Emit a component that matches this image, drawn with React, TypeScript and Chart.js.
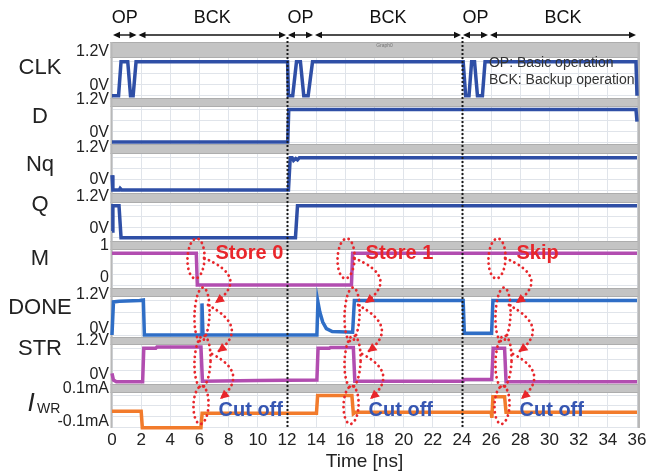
import React, { useEffect, useRef } from 'react';
import { Chart, registerables } from 'chart.js';

Chart.register(...registerables);

// ---------------- data ----------------
const timeMin = 0;
const timeMax = 36;
const timeStep = 2;

const phaseLabels = ['OP', 'BCK', 'OP', 'BCK', 'OP', 'BCK'];
const phaseBounds = [0, 1.75, 12, 13.85, 24, 25.85, 36];
const dividerTimes = [12, 24];
const legendLines = ['OP: Basic operation', 'BCK: Backup operation'];

const signalNames = ['CLK', 'D', 'Nq', 'Q', 'M', 'DONE', 'STR', 'IWR'];

const voltTicks = [0, 1.2];
const voltTickLabels = ['0V', '1.2V'];
const memTicks = [0, 1];
const memTickLabels = ['0', '1'];
const currTicks = [-0.1, 0.1];
const currTickLabels = ['-0.1mA', '0.1mA'];

const clkWave = [[0, 0], [0.45, 0], [0.62, 1.2], [1.08, 1.2], [1.27, 0], [1.45, 0], [1.65, 1.2],
  [12.04, 1.2], [12.1, 0], [12.39, 0], [12.65, 1.2], [12.92, 1.2], [13.15, 0], [13.45, 0], [13.75, 1.2],
  [24.08, 1.2], [24.25, 0], [24.48, 0], [24.66, 1.2], [24.86, 1.2], [25.06, 0], [25.4, 0], [25.58, 1.2],
  [35.93, 1.2], [36, 0]];
const dWave = [[0, 0], [12.05, 0], [12.12, 1.2], [35.93, 1.2], [36, 0.75]];
const nqWave = [[0, 0.55], [0.06, 0], [0.5, 0], [0.56, 0.06], [0.66, 0], [12.1, 0], [12.22, 1.2], [12.35, 1.2],
  [12.45, 1.1], [12.6, 1.17], [12.72, 1.12], [12.85, 1.2], [36, 1.2]];
const qWave = [[0, 0.25], [0.06, 1.2], [0.48, 1.2], [0.62, 0], [12.58, 0], [12.72, 1.2], [36, 1.2]];
const mWave = [[0, 1], [5.78, 1], [5.85, 0], [16.42, 0], [16.5, 1], [36, 1]];
const doneWave = [[0, 0], [0.1, 1.15], [0.5, 1.17], [1.9, 1.2], [2.15, 1.22], [2.22, 0], [6.12, 0], [6.17, 1.1],
  [6.24, 0], [14.05, 0], [14.12, 1.15], [14.25, 0.8], [14.45, 0.45], [14.7, 0.22], [15.1, 0.12], [16.5, 0.1],
  [16.62, 1.2], [24.08, 1.2], [24.16, 0.06], [26.03, 0.06], [26.12, 1.2], [36, 1.2]];
const strWave = [[0, 0.3], [0.1, 0.06], [0.3, 0], [2.1, 0], [2.18, 1.2], [3.0, 1.2], [3.08, 1.25], [6.1, 1.25],
  [6.2, 0.02], [10, 0.04], [14.05, 0.06], [14.13, 1.2], [14.9, 1.2], [14.98, 1.23], [16.55, 1.23], [16.65, 0.02],
  [24.08, 0.02], [24.14, 0.08], [26.04, 0.08], [26.14, 1.2], [26.92, 1.2], [27.02, 0], [36, 0]];
const iwrWave = [[0, 0], [2.0, 0], [2.08, -0.1], [6.1, -0.1], [6.18, -0.012], [14.02, -0.012], [14.1, 0.097],
  [16.45, 0.097], [16.55, -0.015], [16.7, -0.005], [26.0, -0.005], [26.05, -0.04], [26.12, 0.09], [26.92, 0.09],
  [27.02, -0.005], [36, -0.005]];

const annotTimes = [5.76, 16.05, 26.4];
const annotTitles = ['Store 0', 'Store 1', 'Skip'];
const cutOffLabel = 'Cut off';

// ---------------- styles / layout ----------------
const FONT = '"Liberation Sans", Arial, Helvetica, sans-serif';
const BLUE = '#2f4fa6';
const BLUE2 = '#2f6ec6';
const MAGENTA = '#b24db0';
const ORANGE = '#f27b2c';
const RED = '#e8262b';
const CUTBLUE = '#3656b2';

const rows = [
  { name: signalNames[0], wave: clkWave, ticks: voltTicks, labels: voltTickLabels, color: BLUE, h: 56, gray: 16, above: 19.7, below: 2.3, nameDy: -2, labDy: -10 },
  { name: signalNames[1], wave: dWave, ticks: voltTicks, labels: voltTickLabels, color: BLUE, h: 46, gray: 9, above: 11.5, below: 2, nameDy: -4, labDy: -9.5 },
  { name: signalNames[2], wave: nqWave, ticks: voltTicks, labels: voltTickLabels, color: BLUE, h: 49, gray: 10, above: 13.7, below: 3, nameDy: -4, labDy: -10 },
  { name: signalNames[3], wave: qWave, ticks: voltTicks, labels: voltTickLabels, color: BLUE, h: 48, gray: 10, above: 12.7, below: 3.3, nameDy: -12, labDy: -9 },
  { name: signalNames[4], wave: mWave, ticks: memTicks, labels: memTickLabels, color: MAGENTA, h: 47, gray: 9, above: 12.3, below: 3, nameDy: -6, labDy: -7.5 },
  { name: signalNames[5], wave: doneWave, ticks: voltTicks, labels: voltTickLabels, color: BLUE2, h: 49, gray: 9, above: 12.5, below: 2, nameDy: -5, labDy: -6 },
  { name: signalNames[6], wave: strWave, ticks: voltTicks, labels: voltTickLabels, color: MAGENTA, h: 47, gray: 8, above: 11.3, below: 2.3, nameDy: -12, labDy: -7.5 },
  { name: signalNames[7], wave: iwrWave, ticks: currTicks, labels: currTickLabels, color: ORANGE, h: 44, gray: 9, above: 11, below: 0.3, nameDy: -1, labDy: -6 },
];

function arrowHead(ctx: CanvasRenderingContext2D, x: number, y: number, ang: number, len: number, half: number) {
  const c = Math.cos(ang), s = Math.sin(ang);
  ctx.beginPath();
  ctx.moveTo(x, y);
  ctx.lineTo(x - len * c + half * s, y - len * s - half * c);
  ctx.lineTo(x - len * c - half * s, y - len * s + half * c);
  ctx.closePath();
  ctx.fill();
}

const overlayPlugin = {
  id: 'overlay',
  beforeDatasetsDraw(chart: any) {
    const ctx: CanvasRenderingContext2D = chart.ctx;
    const ca = chart.chartArea;
    ctx.save();
    rows.forEach((r, i) => {
      const s = chart.scales['y' + i];
      ctx.fillStyle = '#c4c4c4';
      ctx.fillRect(ca.left - 1.5, s.top, ca.right - ca.left + 4.5, r.gray);
      ctx.fillStyle = '#adadad';
      ctx.fillRect(ca.left - 1.5, s.top + r.gray - 1, ca.right - ca.left + 4.5, 1);
      ctx.fillRect(ca.left - 1.5, s.top, ca.right - ca.left + 4.5, 1);
    });
    ctx.fillStyle = '#b8b8b8';
    ctx.fillRect(ca.left - 1.5, ca.top, 2, ca.bottom - ca.top);
    ctx.fillRect(ca.right + 0.5, ca.top, 2.5, ca.bottom - ca.top);
    ctx.fillStyle = '#777';
    ctx.font = '5px ' + FONT;
    ctx.textAlign = 'center';
    ctx.textBaseline = 'middle';
    ctx.fillText('Graph0', (ca.left + ca.right) / 2 + 10, ca.top + 4);
    ctx.restore();
  },
  afterDatasetsDraw(chart: any) {
    const ctx: CanvasRenderingContext2D = chart.ctx;
    const ca = chart.chartArea;
    const xs = chart.scales.x;
    const sc = rows.map((_, i) => chart.scales['y' + i]);
    ctx.save();

    ctx.strokeStyle = '#1a1a1a';
    ctx.lineWidth = 2;
    ctx.setLineDash([2, 2]);
    dividerTimes.forEach((t) => {
      const x = Math.round(xs.getPixelForValue(t)) + 0.5;
      ctx.beginPath();
      ctx.moveTo(x, 37);
      ctx.lineTo(x, ca.bottom);
      ctx.stroke();
    });

    ctx.setLineDash([]);
    ctx.fillStyle = '#333';
    ctx.font = '14px ' + FONT;
    ctx.textAlign = 'left';
    ctx.textBaseline = 'middle';
    const lx = xs.getPixelForValue(phaseBounds[5]);
    ctx.fillText(legendLines[0], lx, sc[0].top + 21);
    ctx.fillText(legendLines[1], lx, sc[0].top + 38);

    const mid = (k: number) => (sc[k].top + sc[k].bottom) / 2;
    annotTimes.forEach((t, gi) => {
      const x0 = xs.getPixelForValue(t);
      ctx.strokeStyle = RED;
      ctx.fillStyle = RED;
      ctx.lineWidth = 2.8;
      ctx.lineCap = 'round';
      const dash = [0.1, 5];
      ctx.setLineDash(dash);
      const ells = [
        [x0, mid(4) - 6, 8.5, 20],
        [x0 + 6, mid(5) + 2, 7.5, 27],
        [x0 + 6.5, mid(6) + 1, 8, 26],
        [x0 + 5, mid(7) - 1, 7.5, 19],
      ];
      ells.forEach(([cx, cy, rx, ry]) => {
        ctx.beginPath();
        ctx.ellipse(cx, cy, rx, ry, 0.04, 0, Math.PI * 2);
        ctx.stroke();
      });
      for (let k = 0; k < 3; k++) {
        const r = 4 + k;
        const S = { x: x0 + 8 + 4 * k, y: sc[r].top + 17 };
        const P = { x: x0 + 34 + 1.5 * k, y: sc[r].bottom - 9 };
        const E = { x: x0 + 19 + 2.5 * k, y: sc[r + 1].top + 15 };
        const C = { x: 2 * P.x - (S.x + E.x) / 2, y: 2 * P.y - (S.y + E.y) / 2 };
        ctx.setLineDash(dash);
        ctx.beginPath();
        ctx.moveTo(S.x, S.y);
        ctx.quadraticCurveTo(C.x, C.y, E.x, E.y);
        ctx.stroke();
        ctx.setLineDash([]);
        arrowHead(ctx, E.x, E.y, Math.atan2(E.y - C.y, E.x - C.x), 9, 4.5);
      }
      ctx.setLineDash([]);
      ctx.font = 'bold 20px ' + FONT;
      ctx.textAlign = 'left';
      ctx.textBaseline = 'middle';
      ctx.fillStyle = RED;
      ctx.fillText(annotTitles[gi], x0 + 19.5, sc[4].top + 12);
      ctx.fillStyle = CUTBLUE;
      ctx.fillText(cutOffLabel, x0 + 22.5, sc[7].top + 26);
    });
    ctx.restore();
  },
  afterDraw(chart: any) {
    const ctx: CanvasRenderingContext2D = chart.ctx;
    const ca = chart.chartArea;
    const xs = chart.scales.x;
    ctx.save();
    ctx.strokeStyle = '#111';
    ctx.fillStyle = '#111';
    ctx.lineWidth = 1.4;
    ctx.font = '18px ' + FONT;
    ctx.textAlign = 'center';
    ctx.textBaseline = 'middle';
    for (let i = 0; i < phaseLabels.length; i++) {
      const xa = xs.getPixelForValue(phaseBounds[i]) + 1;
      const xb = xs.getPixelForValue(phaseBounds[i + 1]) - 1;
      ctx.beginPath();
      ctx.moveTo(xa + 2, 35);
      ctx.lineTo(xb - 2, 35);
      ctx.stroke();
      arrowHead(ctx, xb, 35, 0, 7, 3.2);
      arrowHead(ctx, xa, 35, Math.PI, 7, 3.2);
      ctx.fillText(phaseLabels[i], (xa + xb) / 2, 18);
    }
    ctx.fillStyle = '#222';
    rows.forEach((r, i) => {
      const s = chart.scales['y' + i];
      const y = (s.top + s.bottom) / 2 + r.nameDy;
      if (r.name === 'IWR') {
        ctx.textAlign = 'center';
        ctx.font = 'italic 26px ' + FONT;
        ctx.fillText('I', 31, y - 1);
        ctx.textAlign = 'left';
        ctx.font = '14px ' + FONT;
        ctx.fillText('WR', 37, y + 4);
      } else {
        ctx.textAlign = 'center';
        ctx.font = '22px ' + FONT;
        ctx.fillText(r.name, 40, y);
      }
    });
    ctx.font = '19px ' + FONT;
    ctx.textAlign = 'center';
    ctx.fillStyle = '#222';
    ctx.fillText('Time [ns]', (ca.left + ca.right) / 2 - 10, 462);
    ctx.restore();
  },
};

export default function App() {
  const ref = useRef<HTMLCanvasElement | null>(null);
  useEffect(() => {
    if (!ref.current) return;
    const scales: any = {
      x: {
        type: 'linear',
        position: 'bottom',
        min: timeMin,
        max: timeMax,
        ticks: {
          stepSize: timeStep,
          autoSkip: false,
          maxRotation: 0,
          padding: 2,
          color: '#222',
          font: { family: FONT, size: 17 },
        },
        grid: { color: '#e0e4ea', lineWidth: 1, drawTicks: false },
        border: { display: false },
        afterFit: (s: any) => {
          s.height = 46;
          s.paddingLeft = 0;
          s.paddingRight = 0;
        },
      },
    };
    rows.forEach((r, i) => {
      const lo = r.ticks[0];
      const hi = r.ticks[1];
      const unit = (hi - lo) / (r.h - r.above - r.below);
      const min = lo - r.below * unit;
      const max = hi + r.above * unit;
      const gridVals = [lo, lo + (hi - lo) / 3, lo + (2 * (hi - lo)) / 3, hi];
      scales['y' + i] = {
        type: 'linear',
        position: 'left',
        stack: 'signals',
        stackWeight: r.h,
        weight: rows.length - i,
        min,
        max,
        afterBuildTicks: (s: any) => {
          s.ticks = gridVals.map((v) => ({ value: v }));
        },
        ticks: {
          autoSkip: false,
          padding: 3,
          labelOffset: r.labDy,
          color: '#222',
          font: { family: FONT, size: 16 },
          callback: (v: number) => {
            const idx = r.ticks.findIndex((t) => Math.abs(t - v) < 1e-9);
            return idx >= 0 ? r.labels[idx] : '';
          },
        },
        grid: { color: '#e0e4ea', lineWidth: 1, drawTicks: false },
        border: { display: false },
        afterFit: (s: any) => {
          s.width = 112;
          s.paddingTop = 0;
          s.paddingBottom = 0;
        },
      };
    });

    const chart = new Chart(ref.current, {
      type: 'line',
      data: {
        datasets: rows.map((r, i) => ({
          label: r.name,
          data: r.wave.map(([x, y]) => ({ x, y })),
          xAxisID: 'x',
          yAxisID: 'y' + i,
          borderColor: r.color,
          borderWidth: 3.5,
          pointRadius: 0,
          tension: 0,
          fill: false,
          clip: false as any,
        })),
      },
      options: {
        responsive: false,
        animation: false,
        devicePixelRatio: 1,
        events: [],
        layout: { padding: { left: 0, top: 42, right: 9, bottom: 0 } },
        plugins: { legend: { display: false }, tooltip: { enabled: false } },
        scales,
      },
      plugins: [overlayPlugin],
    });
    return () => chart.destroy();
  }, []);

  return (
    <div style={{ position: 'fixed', left: 0, top: 0, width: 646, height: 474, background: '#fff' }}>
      <canvas ref={ref} width={646} height={474} style={{ display: 'block' }} />
    </div>
  );
}
